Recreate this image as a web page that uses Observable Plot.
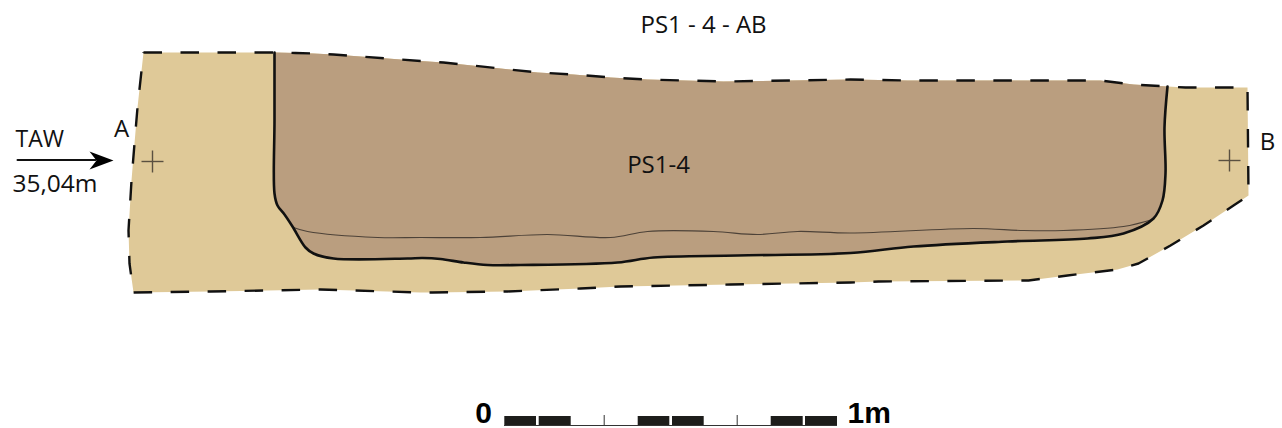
<!DOCTYPE html>
<html>
<head>
<meta charset="utf-8">
<script src="https://cdn.jsdelivr.net/npm/d3@7"></script>
<script src="https://cdn.jsdelivr.net/npm/@observablehq/plot@0.6"></script>
<style>html,body{margin:0;padding:0;background:#fff;overflow:hidden}svg{display:block}</style>
</head>
<body>
<div id="chart"></div>
<script>
const topEdge = [[143,52],[200,52],[258,52],[275,52],[295,52.5],[313,53],[333,54],[387,58],[420,60.5],[443,62],[500,68],[537,72],[573,74],[610,77],[647,79],[723,81],[790,80],[850,79],[907,80],[1000,80],[1100,80],[1133,84],[1167,86]];
const outerRest = [[1185,87],[1247,87],[1248,195],[1233,205],[1203,225],[1170,245],[1138,263],[1117,269],[1067,275],[1028,280],[878,281],[850,282],[730,284],[620,286],[580,288],[507,291],[432,292],[420,292],[320,289],[210,291],[133,292],[129,263],[128,230],[131,180],[134,143],[137,107],[143,52]];
const pitWall = [[274,52],[274,120],[274,193],[277,205],[284,214],[292,226],[305,247],[313,253],[333,258],[407,258],[422,257.5],[440,258.5],[463,262],[487,264.5],[520,264.5],[617,262],[653,257],[737,255],[850,252.5],[913,246],[1007,241],[1087,238],[1123,233],[1153,218],[1162,200],[1165,173],[1164,127],[1167,86]];
const pitTop = topEdge.filter(d => d[0] > 274 && d[0] < 1167).reverse();
const layerLine = [[293,227],[307,231],[377,237],[420,237],[480,237],[547,234],[610,237],[647,231],[713,231],[757,234],[797,231],[850,232.5],[973,228],[1023,230],[1063,230],[1123,226],[1152,219]];
const crossCentres = [[152,161],[1229,160]];
const crossArm = 11;
const arrowShaft = [[17,159.5],[95,159.5]];
const arrowHead = [[113,160],[89,151],[96,160],[89,169]];
const scaleBlocks = [[504.3,536],[538.7,570.7],[637.7,669.3],[672,703.7],[770.7,802.7],[805,837]];
const scaleTicks = [603.7,736.7];
const scaleSpan = [504,837];
const titleLabels = [
  {t:"PS1 - 4 - AB", x:703, y:25},
  {t:"PS1-4", x:658, y:165}
];
const sideLabels = [
  {t:"A", x:121, y:129},
  {t:"B", x:1267, y:142}
];
const tawLabel = [{t:"TAW", x:15, y:139}];
const levelLabel = [{t:"35,04m", x:12, y:184}];
const zeroLabel = [{t:"0", x:483, y:413}];
const metreLabel = [{t:"1m", x:847, y:413}];
const px = d => d[0], py = d => d[1];
const outer = [...topEdge, ...outerRest];
const pitFill = [...pitWall, ...pitTop];
const crossSegs = crossCentres.flatMap(([x,y]) => [
  {x1:x-crossArm,y1:y,x2:x+crossArm,y2:y},
  {x1:x,y1:y-crossArm,x2:x,y2:y+crossArm}
]);
const sans = {x:"x",y:"y",text:"t",lineAnchor:"middle",fontFamily:"Open Sans",fill:"#111"};
const bold = {x:"x",y:"y",text:"t",lineAnchor:"middle",fontFamily:"Liberation Sans",fontWeight:"bold",fontSize:30,fill:"#000"};
const chart = Plot.plot({
  width:1282, height:428,
  marginTop:0, marginRight:0, marginBottom:0, marginLeft:0,
  x:{domain:[0,1282], range:[0,1282], axis:null},
  y:{domain:[0,428], range:[0,428], axis:null},
  marks:[
    Plot.line(outer,{x:px,y:py,fill:"#dfc998",stroke:"none"}),
    Plot.line(pitFill,{x:px,y:py,fill:"#ba9e7f",stroke:"none"}),
    Plot.line(outer,{x:px,y:py,stroke:"#111",strokeWidth:2.4,strokeDasharray:"18.5 18.5",strokeLinecap:"butt"}),
    Plot.line(layerLine,{x:px,y:py,stroke:"#4d4238",strokeWidth:1.2,curve:"catmull-rom"}),
    Plot.line(pitWall,{x:px,y:py,stroke:"#111",strokeWidth:2.6,curve:"catmull-rom"}),
    Plot.link(crossSegs,{x1:"x1",y1:"y1",x2:"x2",y2:"y2",stroke:"#5a5040",strokeWidth:1.4}),
    Plot.line(arrowShaft,{x:px,y:py,stroke:"#111",strokeWidth:2}),
    Plot.line(arrowHead,{x:px,y:py,fill:"#000",stroke:"none"}),
    Plot.rect(scaleBlocks,{x1:d=>d[0],x2:d=>d[1],y1:()=>416,y2:()=>425,fill:"#1d1d1b"}),
    Plot.ruleY([425],{x1:()=>scaleSpan[0],x2:()=>scaleSpan[1],stroke:"#333",strokeWidth:1}),
    Plot.ruleX(scaleTicks,{y1:()=>415,y2:()=>425,stroke:"#333",strokeWidth:1}),
    Plot.text(titleLabels,{...sans,textAnchor:"middle",fontSize:24}),
    Plot.text(sideLabels,{...sans,textAnchor:"middle",fontSize:24}),
    Plot.text(tawLabel,{...sans,textAnchor:"start",fontSize:23}),
    Plot.text(levelLabel,{...sans,textAnchor:"start",fontSize:24.5}),
    Plot.text(zeroLabel,{...bold,textAnchor:"middle"}),
    Plot.text(metreLabel,{...bold,textAnchor:"start"})
  ]
});
document.getElementById("chart").append(chart);
</script>
</body>
</html>
